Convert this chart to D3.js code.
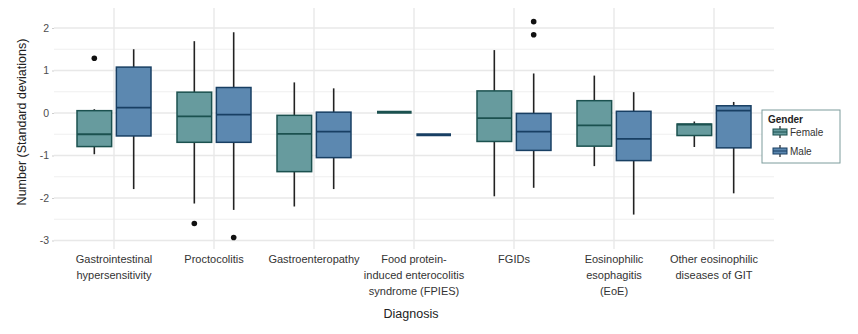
<!DOCTYPE html>
<html>
<head>
<meta charset="utf-8">
<script src="https://cdn.jsdelivr.net/npm/d3@7"></script>
<style>
  body { margin: 0; background: #fff; }
  text { font-family: "Liberation Sans", Arial, sans-serif; }
</style>
</head>
<body>
<svg id="chart" width="858" height="334"></svg>
<script>
// categories, each label split into lines as in the figure
var categories = ['GI', 'Procto', 'Gastro', 'FPIES', 'FGIDs', 'EoE', 'Other'];
var categoryLabels = [
	['Gastrointestinal', 'hypersensitivity'],
	['Proctocolitis'],
	['Gastroenteropathy'],
	['Food protein-', 'induced enterocolitis', 'syndrome (FPIES)'],
	['FGIDs'],
	['Eosinophilic', 'esophagitis', '(EoE)'],
	['Other eosinophilic', 'diseases of GIT']
];
var genders = ['Female', 'Male'];

// [whisker low, q1, median, q3, whisker high]
var femaleStats = [
	[-0.97, -0.79, -0.50, 0.055, 0.09],
	[-2.13, -0.69, -0.08, 0.49, 1.69],
	[-2.20, -1.38, -0.49, -0.055, 0.72],
	[0.02, 0.02, 0.02, 0.02, 0.02],
	[-1.96, -0.67, -0.12, 0.52, 1.48],
	[-1.25, -0.78, -0.29, 0.29, 0.88],
	[-0.80, -0.53, -0.27, -0.26, -0.20]
];
var maleStats = [
	[-1.79, -0.54, 0.125, 1.08, 1.50],
	[-2.28, -0.69, -0.04, 0.60, 1.90],
	[-1.79, -1.05, -0.44, 0.02, 0.58],
	[-0.51, -0.51, -0.51, -0.51, -0.51],
	[-1.76, -0.88, -0.44, -0.01, 0.93],
	[-2.39, -1.12, -0.61, 0.04, 0.49],
	[-1.89, -0.82, 0.055, 0.17, 0.26]
];
var femaleOutliers = [[1.29], [-2.60], [], [], [], [], []];
var maleOutliers = [[], [-2.93], [], [], [2.15, 1.84], [], []];

var yTicks = [-3, -2, -1, 0, 1, 2];
var yMinor = [-2.5, -1.5, -0.5, 0.5, 1.5];

var fills = {Female: '#679b9e', Male: '#5c88b0'};
var strokes = {Female: '#1b514f', Male: '#183f63'};

var svg = d3.select('#chart');

var x = d3.scalePoint().domain(categories).range([54, 774]).padding(0.6);
var dodge = d3.scaleBand().domain(genders).range([-37, 37]).paddingInner(0.12);
var y = d3.scaleLinear().domain([-3.2, 2.4]).range([249, 11]);

var grid = svg.append('g');
grid.selectAll('.minor')
	.data(yMinor)
	.enter().append('line')
	.attr('x1', 54).attr('x2', 774)
	.attr('y1', function(d) { return y(d); })
	.attr('y2', function(d) { return y(d); })
	.style('stroke', '#efefef')
	.style('stroke-width', 1.2);
grid.selectAll('.major')
	.data(yTicks)
	.enter().append('line')
	.attr('x1', 54).attr('x2', 774)
	.attr('y1', function(d) { return y(d); })
	.attr('y2', function(d) { return y(d); })
	.style('stroke', '#e8e8e8')
	.style('stroke-width', 1.4);
grid.selectAll('.vgrid')
	.data(categories)
	.enter().append('line')
	.attr('x1', function(d) { return x(d); })
	.attr('x2', function(d) { return x(d); })
	.attr('y1', 8).attr('y2', 249)
	.style('stroke', '#e8e8e8')
	.style('stroke-width', 1.4);

// y axis
var yAxis = svg.append('g')
	.attr('transform', 'translate(54,0)')
	.call(d3.axisLeft(y).tickValues(yTicks).tickSize(2).tickPadding(3)
		.tickFormat(function(d) { return String(d); }));
yAxis.select('.domain').remove();
yAxis.selectAll('.tick line').style('stroke', '#cfcfcf');
yAxis.selectAll('.tick text')
	.style('font-size', '10.5px')
	.style('fill', '#4d4d4d');

// boxes
var rows = [];
categories.forEach(function(c, i) {
	rows.push({cat: c, gender: 'Female', s: femaleStats[i], out: femaleOutliers[i]});
	rows.push({cat: c, gender: 'Male', s: maleStats[i], out: maleOutliers[i]});
});

var bw = dodge.bandwidth();
var boxes = svg.append('g').selectAll('.box')
	.data(rows)
	.enter().append('g')
	.attr('transform', function(d) { return 'translate(' + (x(d.cat) + dodge(d.gender)) + ',0)'; });

boxes.append('line')
	.attr('x1', bw / 2).attr('x2', bw / 2)
	.attr('y1', function(d) { return y(d.s[4]); })
	.attr('y2', function(d) { return y(d.s[3]); })
	.style('stroke', '#222').style('stroke-width', 1.6);
boxes.append('line')
	.attr('x1', bw / 2).attr('x2', bw / 2)
	.attr('y1', function(d) { return y(d.s[1]); })
	.attr('y2', function(d) { return y(d.s[0]); })
	.style('stroke', '#222').style('stroke-width', 1.6);
boxes.append('rect')
	.attr('x', 0).attr('width', bw)
	.attr('y', function(d) { return y(d.s[3]); })
	.attr('height', function(d) { return y(d.s[1]) - y(d.s[3]); })
	.style('fill', function(d) { return fills[d.gender]; })
	.style('stroke', function(d) { return strokes[d.gender]; })
	.style('stroke-width', 1.5);
boxes.append('line')
	.attr('x1', 0).attr('x2', bw)
	.attr('y1', function(d) { return y(d.s[2]); })
	.attr('y2', function(d) { return y(d.s[2]); })
	.style('stroke', function(d) { return strokes[d.gender]; })
	.style('stroke-width', function(d) { return d.s[1] === d.s[3] ? 3 : 1.8; });
boxes.selectAll('.outlier')
	.data(function(d) { return d.out; })
	.enter().append('circle')
	.attr('cx', bw / 2)
	.attr('cy', function(d) { return y(d); })
	.attr('r', 2.8)
	.style('fill', '#111');

// x labels
var xl = svg.append('g').selectAll('.xlab')
	.data(categories)
	.enter().append('text')
	.attr('text-anchor', 'middle')
	.style('font-size', '11px')
	.style('fill', '#333');
xl.selectAll('tspan')
	.data(function(d, i) { return categoryLabels[i].map(function(t) { return {t: t, c: d}; }); })
	.enter().append('tspan')
	.attr('x', function(d) { return x(d.c); })
	.attr('y', function(d, j) { return 263 + j * 16; })
	.text(function(d) { return d.t; });

svg.append('text')
	.attr('x', 411).attr('y', 318)
	.attr('text-anchor', 'middle')
	.style('font-size', '12.5px')
	.style('fill', '#222')
	.text('Diagnosis');

svg.append('text')
	.attr('transform', 'translate(26,122) rotate(-90)')
	.attr('text-anchor', 'middle')
	.style('font-size', '12.5px')
	.style('fill', '#222')
	.text('Number (Standard deviations)');

// legend
var legend = svg.append('g').attr('transform', 'translate(762,110)');
legend.append('rect')
	.attr('width', 78).attr('height', 53)
	.style('fill', '#fff')
	.style('stroke', '#7c9c9c')
	.style('stroke-width', 1);
legend.append('text')
	.attr('x', 6).attr('y', 12.5)
	.style('font-size', '10px')
	.style('font-weight', 'bold')
	.style('fill', '#222')
	.text('Gender');
var keys = legend.selectAll('.key')
	.data(genders)
	.enter().append('g')
	.attr('transform', function(d, i) { return 'translate(11,' + (21 + i * 19) + ')'; });
keys.append('line')
	.attr('x1', 7).attr('x2', 7).attr('y1', -5).attr('y2', 7)
	.style('stroke', '#222').style('stroke-width', 1.2);
keys.append('rect')
	.attr('x', 0).attr('y', -2).attr('width', 14).attr('height', 6)
	.style('fill', function(d) { return fills[d]; })
	.style('stroke', function(d) { return strokes[d]; })
	.style('stroke-width', 1);
keys.append('line')
	.attr('x1', 0).attr('x2', 14).attr('y1', 1).attr('y2', 1)
	.style('stroke', function(d) { return strokes[d]; })
	.style('stroke-width', 1);
keys.append('text')
	.attr('x', 17).attr('y', 4.5)
	.style('font-size', '10px')
	.style('fill', '#333')
	.text(function(d) { return d; });
</script>
</body>
</html>
